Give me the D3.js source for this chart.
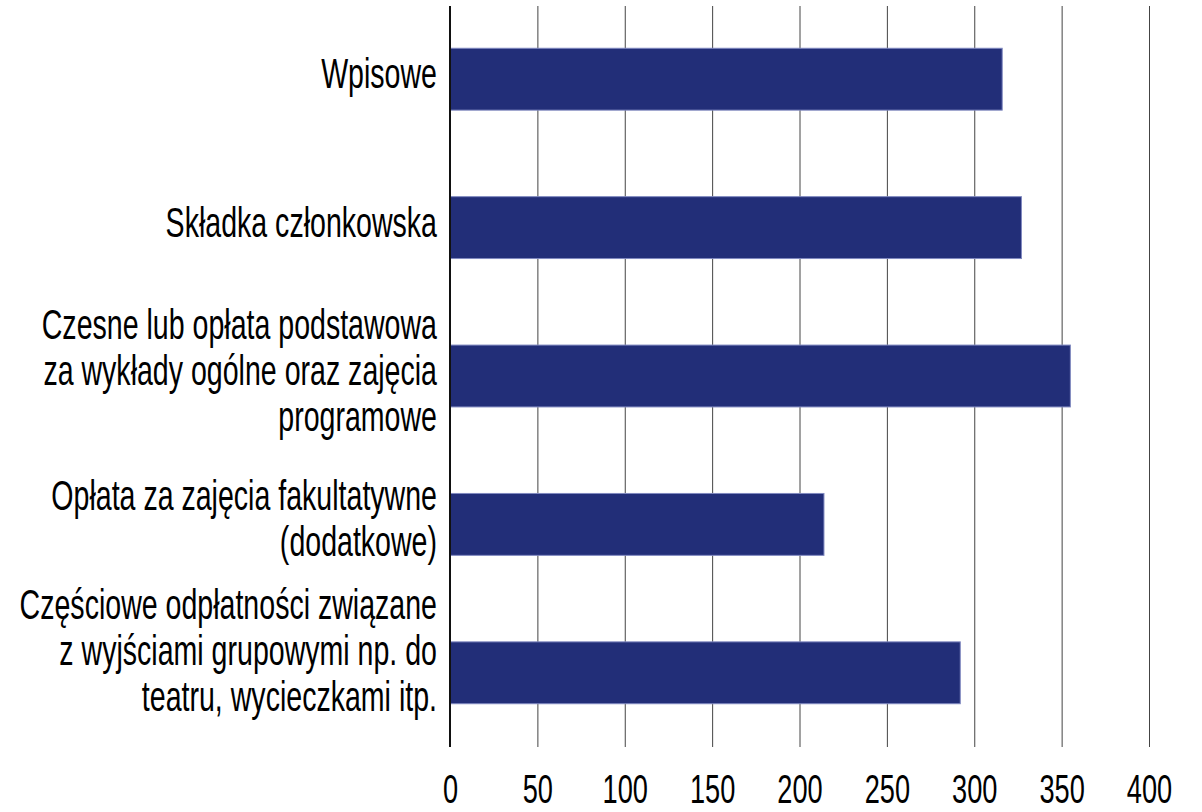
<!DOCTYPE html>
<html>
<head>
<meta charset="utf-8">
<script src="https://cdn.jsdelivr.net/npm/d3@7"></script>
<style>
  body { margin: 0; background: #fff; }
  svg { display: block; }
  text { font-family: "Liberation Sans", Arial, sans-serif; fill: #000; }
</style>
</head>
<body>
<svg id="chart" width="1202" height="812"></svg>
<script>
// categories (top to bottom), each label split in lines like the original
const categories = [
  ["Wpisowe"],
  ["Składka członkowska"],
  ["Czesne lub opłata podstawowa", "za wykłady ogólne oraz zajęcia", "programowe"],
  ["Opłata za zajęcia fakultatywne", "(dodatkowe)"],
  ["Częściowe odpłatności związane", "z wyjściami grupowymi np. do", "teatru, wycieczkami itp."]
]
const values = [316, 327, 355, 214, 292]
const ticks = [0, 50, 100, 150, 200, 250, 300, 350, 400]

const svg = d3.select("#chart")
const squeeze = 0.68 // the original font is very narrow
const lineH = 46

const x = d3.scaleLinear().domain([0, 400]).range([450, 1149])
const y = d3.scaleBand()
  .domain(d3.range(categories.length))
  .range([5, 747])
  .paddingInner(0.583)
  .paddingOuter(0.2915)

// vertical grid lines
svg.append("g")
  .selectAll("line")
  .data(ticks.slice(1))
  .join("line")
    .attr("x1", d => x(d) + 0.5)
    .attr("x2", d => x(d) + 0.5)
    .attr("y1", 6)
    .attr("y2", 747)
    .attr("stroke", "#444")
    .attr("stroke-width", 1)

// bars
svg.append("g")
  .selectAll("rect")
  .data(values)
  .join("rect")
    .attr("x", x(0))
    .attr("y", (d, i) => y(i))
    .attr("width", d => x(d) - x(0))
    .attr("height", y.bandwidth())
    .attr("fill", "#222e78")
    .attr("stroke", "#8089c0")
    .attr("stroke-width", 1)

// value axis labels
const xAxis = svg.append("g")
  .attr("transform", "translate(0,747)")
  .call(d3.axisBottom(x).tickValues(ticks).tickSize(0).tickFormat(d3.format("d")))
xAxis.select(".domain").remove()
xAxis.selectAll("text")
  .attr("y", 56)
  .attr("dy", null)
  .attr("font-size", 40)
  .style("font-family", "'Liberation Sans', Arial, sans-serif")
  .attr("transform", `scale(${squeeze},1)`)

// category axis line (the zero line)
svg.append("line")
  .attr("x1", x(0)).attr("x2", x(0))
  .attr("y1", 6).attr("y2", 747)
  .attr("stroke", "#111")
  .attr("stroke-width", 2)

// category labels, multi-line, right aligned next to the axis
const labels = svg.append("g")
  .selectAll("text")
  .data(categories)
  .join("text")
    .attr("text-anchor", "end")
    .attr("font-size", 42)
    .attr("transform", (d, i) => {
      const c = y(i) + y.bandwidth() / 2
      // first baseline so the block is roughly centred on the bar
      let b = c - 6 + 15 - (d.length - 1) * lineH / 2
      const last = b + (d.length - 1) * lineH
      if (last > 711) b -= last - 711
      return `translate(437,${b}) scale(${squeeze},1)`
    })

labels.selectAll("tspan")
  .data(d => d)
  .join("tspan")
    .attr("x", 0)
    .attr("y", (d, i) => i * lineH)
    .text(d => d)
</script>
</body>
</html>
